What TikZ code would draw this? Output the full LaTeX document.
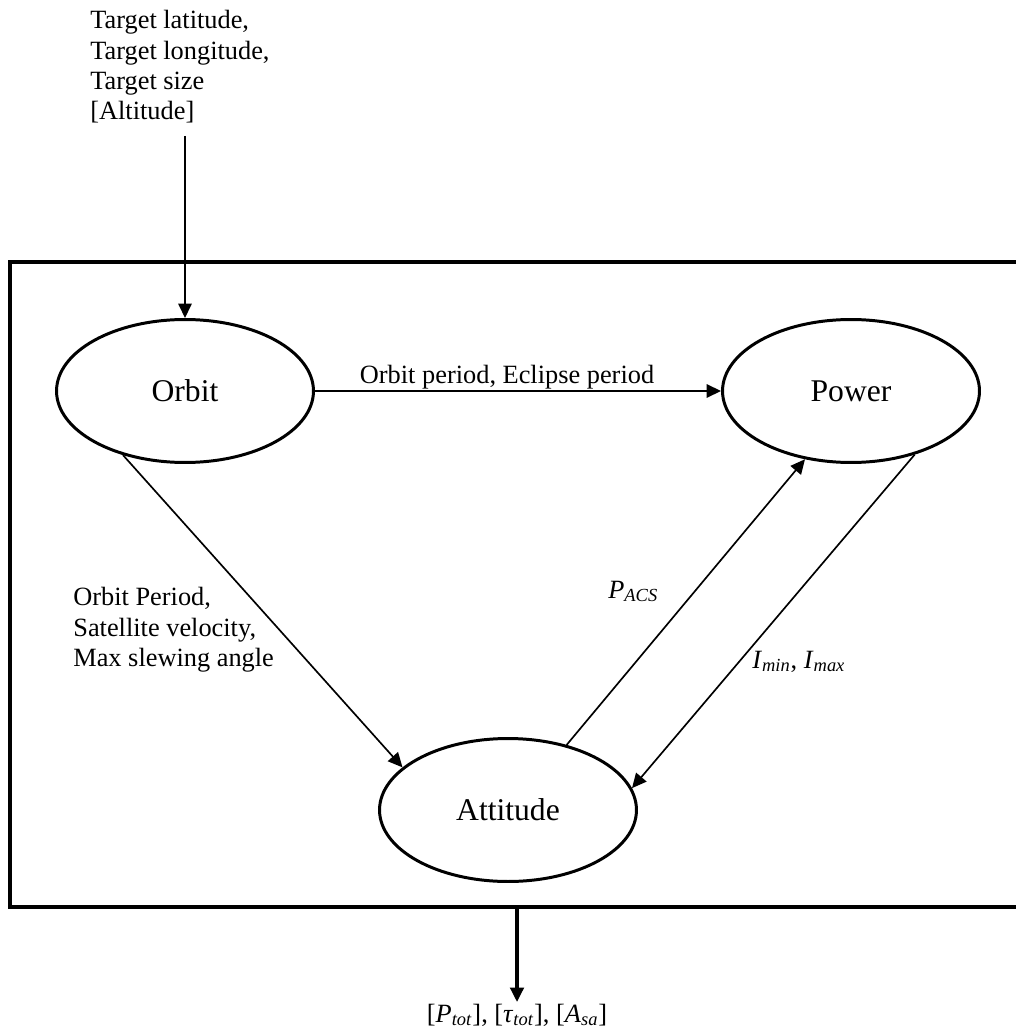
\documentclass[tikz,border=0pt]{standalone}
\usepackage{fontspec}
\setmainfont{Liberation Serif}
\usetikzlibrary{arrows.meta,positioning,shapes.geometric}
\tikzset{
    module/.style={ellipse,draw,line width=1.7pt,inner sep=0pt,
        minimum width=5.14cm,minimum height=2.86cm,font=\fontsize{18}{21}\selectfont},
    arr/.style={-{Triangle[length=2.9mm,width=2.7mm]},line width=0.95pt},
    out arr/.style={arr,line width=1.9pt},
    frame/.style={line width=2.7pt},
    flow text/.style={font=\fontsize{15}{17.3}\selectfont,align=left,inner sep=0pt},
}
\newcommand{\sub}[2]{\textit{#1}\textsubscript{\textit{#2}}}

\begin{document}
\begin{tikzpicture}[x=0.02cm,y=-0.02cm]
    \useasboundingbox (0,0) rectangle (1015,1030);

    % subsystems
    \node[module] (orbit) at (185,391) {Orbit};
    \node[module] (power) at (851,391) {Power};
    \node[module] (att) at (508,810) {Attitude};

    % system boundary
    \draw[frame] (1040,262) -- (10,262) -- (10,907) -- (1040,907);

    % inputs
    \node[flow text, anchor=north west] (inputs) at (90,10)
        {Target latitude,\\Target longitude,\\Target size\\{[Altitude]}};
    \coordinate (in) at (185,136);
    \draw[arr] (in) -- (orbit.north);

    % couplings
    \draw[arr] (orbit.east) -- (power.west)
        node[pos=.473, above, flow text, yshift=.3mm] {Orbit period, Eclipse period};
    \draw[arr] (orbit.226) -- (att.158);
    \draw[arr] (att.48) -- (power.236);
    \draw[arr] (power.315) -- (att.10);

    \node[flow text, anchor=north west] (oalab) at (73,587)
        {Orbit Period,\\Satellite velocity,\\Max slewing angle};
    \node[flow text, anchor=base west] (paclab) at (608,598) {\sub{P}{ACS}};
    \node[flow text, anchor=base west] (ilab) at (752,668) {\sub{I}{min}, \sub{I}{max}};

    % outputs
    \coordinate (out) at (517,907);
    \node[flow text, anchor=north, outer sep=1pt] (outputs) at (517,1002)
        {[\sub{P}{tot}], [\sub{τ}{tot}], [\sub{A}{sa}]};
    \draw[out arr] (out) -- (outputs.north);
\end{tikzpicture}
\end{document}
